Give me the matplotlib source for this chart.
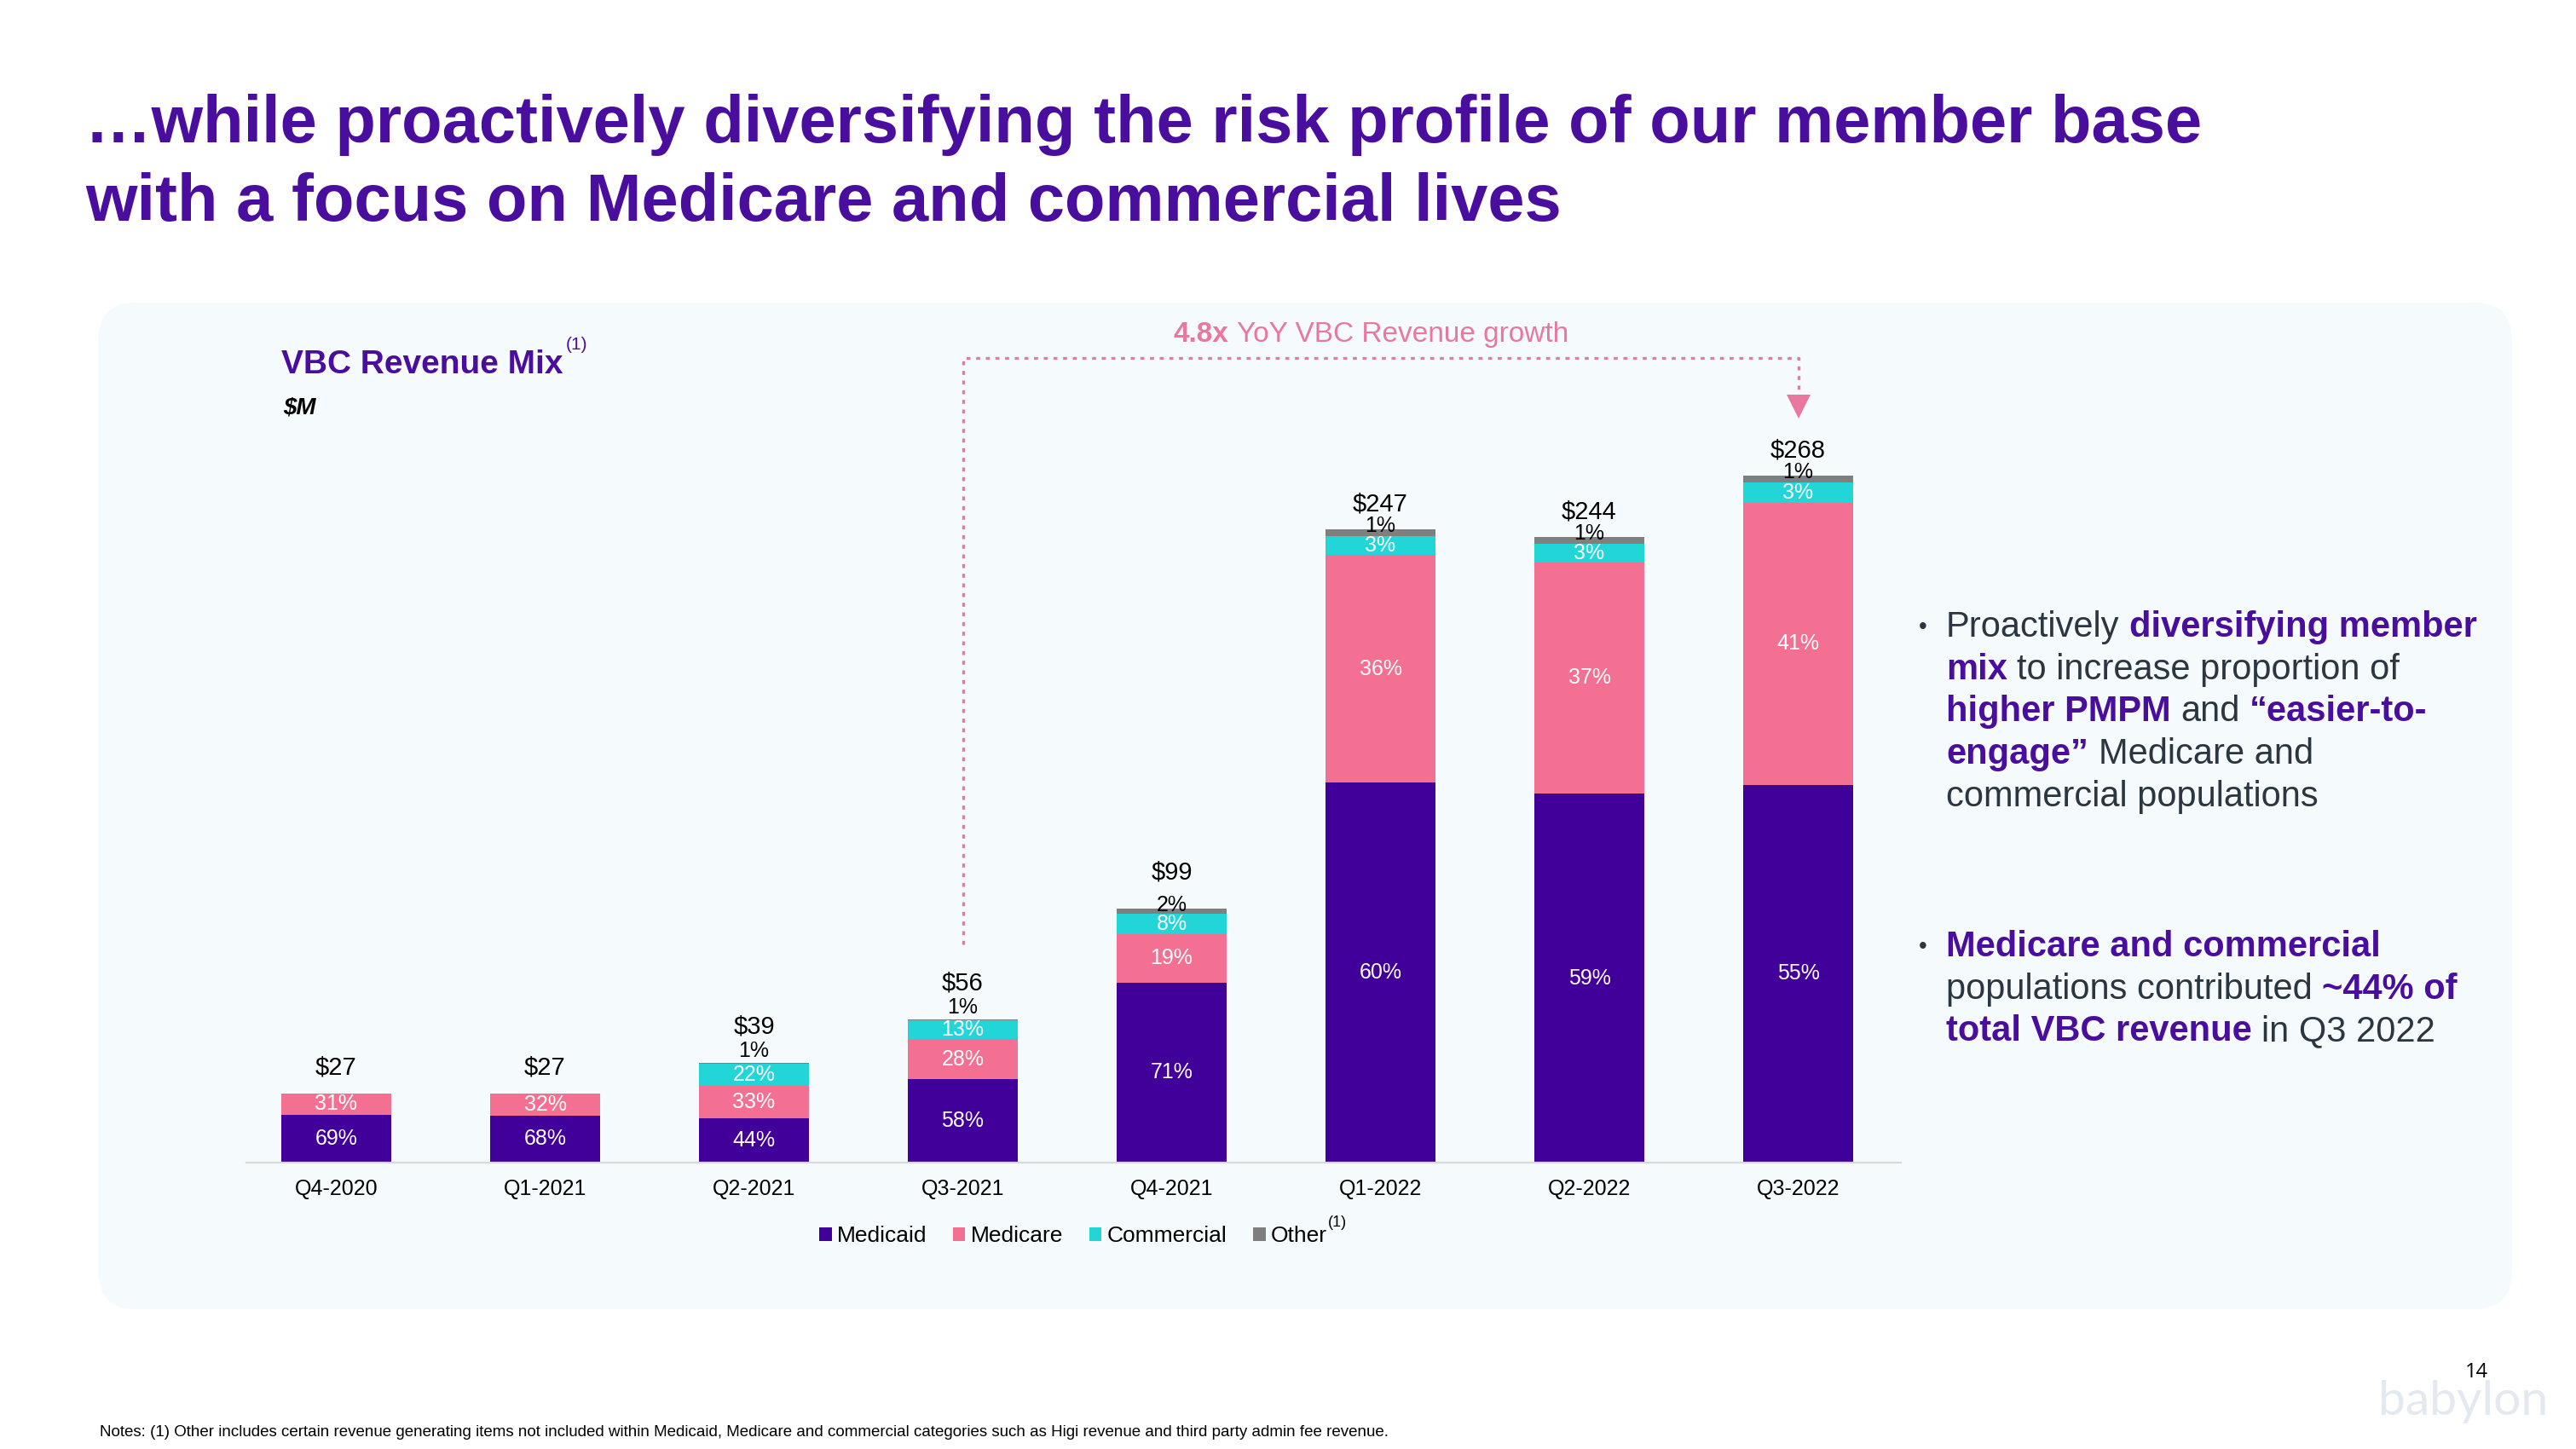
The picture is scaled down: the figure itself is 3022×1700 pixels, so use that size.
import matplotlib
matplotlib.use("Agg")
import matplotlib.pyplot as plt
import matplotlib.transforms as mtransforms
from matplotlib.patches import FancyBboxPatch, Patch
import numpy as np

plt.rcParams['font.family'] = ['Liberation Sans', 'DejaVu Sans']

# ---- data ----
quarters = ["Q4-2020", "Q1-2021", "Q2-2021", "Q3-2021", "Q4-2021", "Q1-2022", "Q2-2022", "Q3-2022"]
totals = [27, 27, 39, 56, 99, 247, 244, 268]
medicaid_pct = [69, 68, 44, 58, 71, 60, 59, 55]
medicare_pct = [31, 32, 33, 28, 19, 36, 37, 41]
commercial_pct = [0, 0, 22, 13, 8, 3, 3, 3]
other_pct = [0, 0, 1, 1, 2, 1, 1, 1]
series_names = ["Medicaid", "Medicare", "Commercial", "Other"]

title_lines = ["\u2026while proactively diversifying the risk profile of our member base",
               "with a focus on Medicare and commercial lives"]
growth_bold = "4.8x"
growth_text = " YoY VBC Revenue growth"
footnote = ("Notes: (1) Other includes certain revenue generating items not included within Medicaid, "
            "Medicare and commercial categories such as Higi revenue and third party admin fee revenue.")

# ---- style ----
PURPLE = "#42009B"
TITLE = "#4A0E9E"
PINK = "#F37092"
CYAN = "#22D6D8"
GREY = "#7F7F7F"
NOTE_PINK = "#E8789F"
BODY = "#2B3640"
colors = [PURPLE, PINK, CYAN, GREY]

W, H = 3022, 1700
fig = plt.figure(figsize=(W / 100, H / 100), dpi=100)
fig.patch.set_facecolor("white")


def fx(x):
    return x / W


def fy(y):
    return 1 - y / H


# card background
card = FancyBboxPatch((115, H - 1536), 2832, 1181, boxstyle="round,pad=0,rounding_size=45",
                      transform=mtransforms.IdentityTransform(), facecolor="#F5FAFC",
                      edgecolor="none", zorder=-5)
fig.add_artist(card)

# ---- chart ----
ax_left, ax_right, ax_bottom, ax_top = 289, 2230, 1364, 420
ax = fig.add_axes([fx(ax_left), fy(ax_bottom), (ax_right - ax_left) / W, (ax_bottom - ax_top) / H])
ax.patch.set_visible(False)

step = 245.0
x0 = 394.5
ax.set_xlim((ax_left - x0) / step, (ax_right - x0) / step)
px_per_unit = 268 / 806.0
ax.set_ylim(0, (ax_bottom - ax_top) * px_per_unit)

x = np.arange(len(quarters))
tot = np.array(totals, dtype=float)
pcts = [np.array(p, dtype=float) for p in (medicaid_pct, medicare_pct, commercial_pct, other_pct)]
bottom = np.zeros(len(quarters))
bar_w = 129 / step
for name, p, c in zip(series_names, pcts, colors):
    vals = tot * p / 100
    ax.bar(x, vals, bar_w, bottom=bottom, color=c, label=name, linewidth=0)
    for i in range(len(quarters)):
        if p[i] == 0:
            continue
        if name == "Other":
            off = 10 if tot[i] < 60 else 3
            ax.annotate(f"{int(p[i])}%", (x[i], bottom[i] + vals[i]), xytext=(0, off),
                        textcoords="offset points", ha="center", va="center",
                        fontsize=18, color="black")
        else:
            ax.text(x[i], bottom[i] + vals[i] / 2, f"{int(p[i])}%", ha="center", va="center",
                    fontsize=18, color="white")
    bottom += vals

# totals above bars (pushed higher where the small "Other" label sits above the bar)
for i in range(len(quarters)):
    off = 30.5 if (other_pct[i] > 0 and tot[i] < 150) else 21.5
    ax.annotate(f"${totals[i]}", (x[i], tot[i]), xytext=(0, off), textcoords="offset points",
                ha="center", va="center", fontsize=21, color="black")

for s in ["top", "left", "right"]:
    ax.spines[s].set_visible(False)
ax.spines["bottom"].set_color("#D9D9D9")
ax.spines["bottom"].set_linewidth(1.6)
ax.set_yticks([])
ax.set_xticks(x)
ax.set_xticklabels(quarters, fontsize=18)
ax.tick_params(axis="x", length=0, pad=14)

# growth bracket
ymax = ax.get_ylim()[1]
left_i, right_i = 3, 7
y_start = tot[left_i] + 88 * px_per_unit
y_arrow_base = tot[right_i] + (558 - 463) * px_per_unit
y_arrow_mid = tot[right_i] + (558 - 477) * px_per_unit
ax.plot([x[left_i], x[left_i], x[right_i], x[right_i]], [y_start, ymax, ymax, y_arrow_base],
        color=NOTE_PINK, lw=2.4, linestyle=(0, (1.4, 2.0)), clip_on=False)
ax.plot([x[right_i]], [y_arrow_mid], marker="v", markersize=20, color=NOTE_PINK,
        markeredgewidth=0, clip_on=False)

fig.canvas.draw()
renderer = fig.canvas.get_renderer()


def run_width(s, size, weight="normal", style="normal"):
    t1 = fig.text(0, 0, "|" + s + "|", fontsize=size, fontweight=weight, fontstyle=style)
    t2 = fig.text(0, 0, "||", fontsize=size, fontweight=weight, fontstyle=style)
    w = t1.get_window_extent(renderer).width - t2.get_window_extent(renderer).width
    t1.remove()
    t2.remove()
    return w


def draw_runs(xs, ybase, runs, size):
    xc = xs
    for s, weight, color in runs:
        stripped = s.strip(" ")
        lead = len(s) - len(s.lstrip(" "))
        trail = len(s) - len(s.rstrip(" "))
        sp = run_width(" ", size, weight)
        xc += lead * sp
        fig.text(fx(xc), fy(ybase), stripped, fontsize=size, fontweight=weight, color=color,
                 ha="left", va="baseline")
        xc += run_width(stripped, size, weight) + trail * sp
    return xc


# title
fig.text(fx(100), fy(167), title_lines[0], fontsize=56, fontweight="bold", color=TITLE, va="baseline")
fig.text(fx(100), fy(259), title_lines[1], fontsize=56, fontweight="bold", color=TITLE, va="baseline")

# chart header
end = draw_runs(330, 438, [("VBC Revenue Mix", "bold", TITLE)], 28)
fig.text(fx(end + 3), fy(410), "(1)", fontsize=15, color=TITLE, va="baseline")
fig.text(fx(332), fy(485), "$M", fontsize=20, fontweight="bold", fontstyle="italic",
         color="black", va="baseline")

# growth note
gsize = 24
gw = run_width(growth_bold, gsize, "bold") + run_width(growth_text, gsize)
draw_runs(1608 - gw / 2, 401, [(growth_bold, "bold", NOTE_PINK), (growth_text, "normal", NOTE_PINK)], gsize)

# legend
handles = [Patch(facecolor=c, edgecolor="none") for c in colors]
leg = fig.legend(handles, series_names, loc="center left", bbox_to_anchor=(fx(961), fy(1450)),
                 ncol=4, frameon=False, fontsize=19, handlelength=0.55, handleheight=0.55,
                 handletextpad=0.25, columnspacing=1.15, borderpad=0, borderaxespad=0)
fig.canvas.draw()
ot = leg.get_texts()[-1].get_window_extent(renderer)
fig.text(fx(ot.x1 + 1), fy(1439), "(1)", fontsize=13, color="black", va="baseline")

# right side text
size = 30
lh = 49.7
b1 = [
    [("Proactively ", "normal", BODY), ("diversifying member", "bold", TITLE)],
    [("mix", "bold", TITLE), (" to increase proportion of", "normal", BODY)],
    [("higher PMPM", "bold", TITLE), (" and ", "normal", BODY), ("\u201ceasier-to-", "bold", TITLE)],
    [("engage\u201d", "bold", TITLE), (" Medicare and", "normal", BODY)],
    [("commercial populations", "normal", BODY)],
]
b2 = [
    [("Medicare and commercial", "bold", TITLE)],
    [("populations contributed ", "normal", BODY), ("~44% of", "bold", TITLE)],
    [("total VBC revenue", "bold", TITLE), (" in Q3 2022", "normal", BODY)],
]
for start, lines in [(747, b1), (1122, b2)]:
    fig.text(fx(2256), fy(start - 11), "\u2022", fontsize=20, color=BODY, ha="center", va="center")
    for k, line in enumerate(lines):
        draw_runs(2283, start + k * lh, line, size)

# footnote, page number, logo
fig.text(fx(117), fy(1685), footnote, fontsize=13.5, color="black", va="baseline")
fig.text(fx(2905), fy(1610), "14", fontsize=17, color="black", ha="center", va="center",
         family=["Open Sans", "DejaVu Sans"])
fig.text(fx(2890), fy(1645), "babylon", fontsize=41, color="#E3E9EF", ha="center", va="center",
         family=["Lato", "DejaVu Sans"])

fig.savefig("out.png", dpi=100, facecolor="white")
